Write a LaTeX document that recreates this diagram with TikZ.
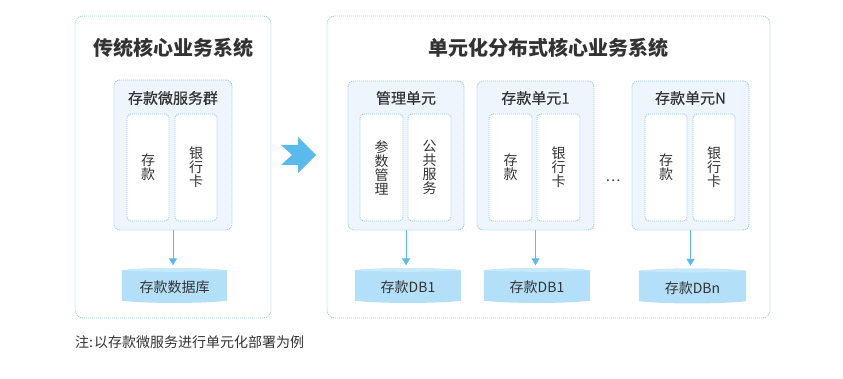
\documentclass[tikz,border=0pt]{standalone}
\usepackage{fontspec}
\setmainfont{Noto Sans CJK SC}
\newfontfamily\medfont{Noto Sans CJK SC}[FakeBold=0.5]
\usetikzlibrary{arrows.meta,calc}
\definecolor{bord}{HTML}{94CEF0}
\definecolor{grpfill}{HTML}{EEF5FC}
\definecolor{arr}{HTML}{5BBAEC}
\definecolor{dbfill}{HTML}{B3E0F8}
\definecolor{dbtop}{HTML}{C8E9FA}
\definecolor{txt}{HTML}{333333}
\newcommand\dbshape[1]{%
  \fill[dbfill] ($(#1.north west)+(0,2)$) .. controls ($(#1.north west)+(25,-1)$) and ($(#1.north east)+(-25,-1)$) .. ($(#1.north east)+(0,2)$)
    -- ($(#1.south east)+(0,-2)$) .. controls ($(#1.south east)+(-25,1)$) and ($(#1.south west)+(25,1)$) .. ($(#1.south west)+(0,-2)$) -- cycle;
  \fill[dbtop] ($(#1.north west)+(0,2)$) .. controls ($(#1.north west)+(25,-1)$) and ($(#1.north east)+(-25,-1)$) .. ($(#1.north east)+(0,2)$)
    .. controls ($(#1.north east)+(-25,4)$) and ($(#1.north west)+(25,4)$) .. ($(#1.north west)+(0,2)$) -- cycle;
}
\begin{document}
\begin{tikzpicture}[x=1pt,y=-1pt,
  dotline/.style={draw=bord, line width=0.9pt, dash pattern=on 1pt off 1pt},
  outerbox/.style={dotline, rounded corners=8pt, fill=white, inner sep=0pt},
  grpbox/.style={dotline, rounded corners=6pt, fill=grpfill, inner sep=0pt},
  svcbox/.style={dotline, rounded corners=4pt, fill=white, inner sep=0pt, minimum height=107pt, align=center, text=txt, font=\fontsize{14}{14}\selectfont},
  titletext/.style={text=txt, font=\fontsize{20}{24}\selectfont\bfseries},
  grplabel/.style={text=txt, font=\medfont\fontsize{15}{18}\selectfont},
  dbnode/.style={inner sep=0pt, minimum height=34pt},
  dbtext/.style={text=txt, font=\fontsize{14}{16}\selectfont},
  flow/.style={draw=arr, line width=1pt, -{Triangle[width=8pt,length=7pt]}, shorten >=3pt}
]
\useasboundingbox (0,0) rectangle (843,379);

% outer boxes
\node[outerbox, minimum width=196pt, minimum height=302pt] (left) at (173,167) {};
\node[outerbox, minimum width=443pt, minimum height=302pt] (right) at (548.5,167) {};
\node[titletext] (ltitle) at (173,48) {传统核心业务系统};
\node[titletext] (rtitle) at (548,48) {单元化分布式核心业务系统};

% left group
\node[grpbox, minimum width=118pt, minimum height=150pt] (g0) at (173,155) {};
\node[grplabel] (g0l) at (173,98) {存款微服务群};
\node[svcbox, minimum width=42pt] (s01) at (148,167.5) {存\\款};
\node[svcbox, minimum width=42pt] (s02) at (196,167.5) {银\\行\\卡};

% right groups
\node[grpbox, minimum width=116pt, minimum height=149pt] (g1) at (406,155.5) {};
\node[grplabel] (g1l) at (406,98) {管理单元};
\node[svcbox, minimum width=43pt] (s11) at (381.5,167.5) {参\\数\\管\\理};
\node[svcbox, minimum width=43pt] (s12) at (429.5,167.5) {公\\共\\服\\务};

\node[grpbox, minimum width=117pt, minimum height=149pt] (g2) at (535.5,155.5) {};
\node[grplabel] (g2l) at (535.5,98) {存款单元1};
\node[svcbox, minimum width=43pt] (s21) at (510.5,167.5) {存\\款};
\node[svcbox, minimum width=43pt] (s22) at (558.5,167.5) {银\\行\\卡};

\node[text=txt, font=\fontsize{14}{16}\selectfont] (dots) at (613,181) {…};

\node[grpbox, minimum width=117pt, minimum height=149pt] (g3) at (690.5,155.5) {};
\node[grplabel] (g3l) at (690.5,98) {存款单元N};
\node[svcbox, minimum width=42pt] (s31) at (666,167.5) {存\\款};
\node[svcbox, minimum width=42pt] (s32) at (714,167.5) {银\\行\\卡};

% databases
\node[dbnode, minimum width=105pt] (db0) at (174.5,285.5) {};
\node[dbnode, minimum width=106pt] (db1) at (408,285.5) {};
\node[dbnode, minimum width=106pt] (db2) at (537,285.5) {};
\node[dbnode, minimum width=107pt] (db3) at (692.5,286) {};
\dbshape{db0}\dbshape{db1}\dbshape{db2}\dbshape{db3}
\node[dbtext] at ($(db0.center)+(0,2)$) {存款数据库};
\node[dbtext] at ($(db1.center)+(0,2)$) {存款DB1};
\node[dbtext] at ($(db2.center)+(0,2)$) {存款DB1};
\node[dbtext] at ($(db3.center)+(0,2)$) {存款DBn};

% connectors
\draw[flow] (g0.south) -- (g0.south |- db0.north);
\draw[flow] (g1.south) -- (g1.south |- db1.north);
\draw[flow] (g2.south) -- (g2.south |- db2.north);
\draw[flow] (g3.south) -- (g3.south |- db3.north);

% big chevron arrow
\fill[arr] (281,145) -- (298,145) -- (298,137) -- (316,155) -- (298,173) -- (298,165) -- (281,165) -- (292,155) -- cycle;

% footnote
\node[anchor=west, text=txt, font=\fontsize{14}{16}\selectfont, inner sep=0pt] (note) at (75,342) {注:\hspace{1pt}以存款微服务进行单元化部署为例};
\end{tikzpicture}
\end{document}
